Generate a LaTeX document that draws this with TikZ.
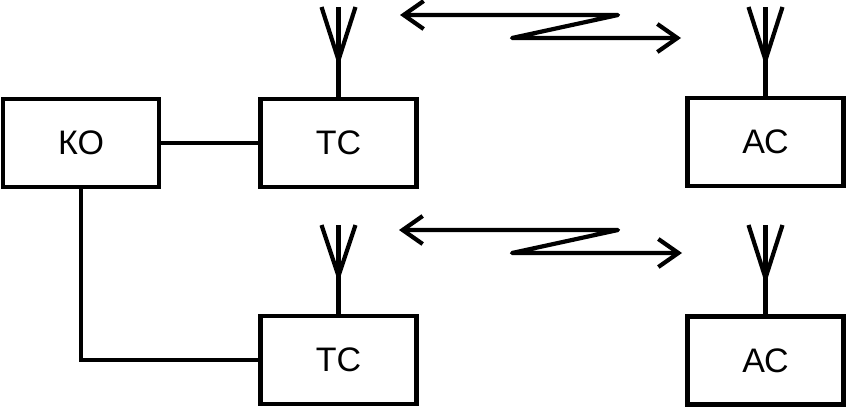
\documentclass[tikz,border=0pt]{standalone}
\usepackage{fontspec}
\setmainfont{Liberation Sans}
\usetikzlibrary{arrows.meta}
\begin{document}
\begin{tikzpicture}[x=1pt,y=-1pt,line width=4.2pt,
  blk/.style={draw,line width=4.2pt,minimum width=156pt,minimum height=88pt,inner sep=0pt,font=\fontsize{34}{34}\selectfont},
  radio/.style={line join=round,{Straight Barb[length=20pt,width=28pt,line width=4.2pt]}-{Straight Barb[length=20pt,width=28pt,line width=4.2pt]}}]
\useasboundingbox (0,0) rectangle (846,407);
\node[blk] (ko) at (81,143) {КО};
\node[blk] (tc1) at (338.5,143) {ТС};
\node[blk] (tc2) at (338.5,360) {ТС};
\node[blk] (ac1) at (765.5,142) {АС};
\node[blk] (ac2) at (765.5,360.5) {АС};
% connections
\draw (ko.east) -- (tc1.west);
\draw (ko.south) |- (tc2.west);
% antennas
\foreach \b/\t/\a in {tc1/7/60, tc2/225/276, ac1/7/60, ac2/225/278}{
  \draw (\b.north) -- (\b.north |- 0,\t);
  \draw ([xshift=-17pt]\b.north |- 0,\t) -- (\b.north |- 0,\a) -- ([xshift=17pt]\b.north |- 0,\t);
}
% radio links
\coordinate (l1) at (400,15);
\coordinate (m1) at (618,15);
\coordinate (n1) at (512,38);
\coordinate (r1) at (681,38);
\draw[radio] (l1) -- (m1) -- (n1) -- (r1);
\coordinate (l2) at (399,230);
\coordinate (m2) at (618,230);
\coordinate (n2) at (512,253);
\coordinate (r2) at (682,253);
\draw[radio] (l2) -- (m2) -- (n2) -- (r2);
\end{tikzpicture}
\end{document}
